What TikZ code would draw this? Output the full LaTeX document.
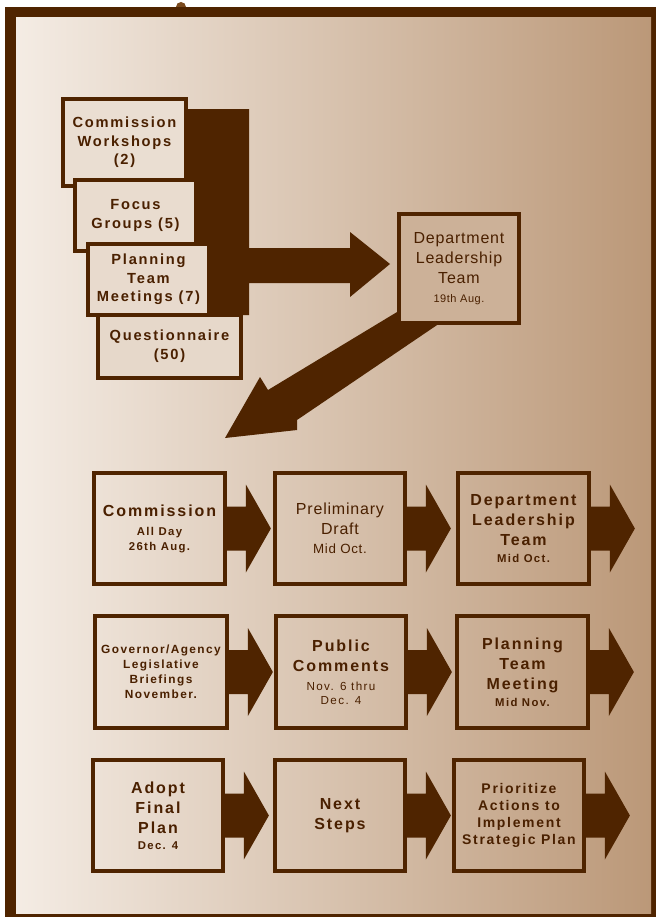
\documentclass[tikz,border=0pt]{standalone}
\usepackage{fontspec}
\setmainfont{Liberation Sans}
\newfontfamily\wide[LetterSpace=12]{Liberation Sans}
\newfontfamily\wider[LetterSpace=12]{Liberation Sans}
\newfontfamily\lightsp[LetterSpace=5]{Liberation Sans}
\newcommand{\smtxt}{\fontsize{8.5}{10}\selectfont}
\newcommand{\smreg}{\mdseries\fontsize{8.75}{10}\selectfont}
\definecolor{brn}{HTML}{4F2400}
\definecolor{txt}{HTML}{4A2000}
\definecolor{bgL}{HTML}{F4ECE4}
\definecolor{bgR}{HTML}{BB9878}
\definecolor{pincol}{HTML}{7B4A1E}
\tikzset{
  box/.style={draw=brn, line width=3.2pt, text=txt, align=center, inner sep=0pt},
  wh/.style 2 args={minimum width=#1*0.75pt, minimum height=#2*0.75pt},
  stackfont/.style={font=\wider\bfseries\fontsize{11}{14}\selectfont},
  bigbold/.style={font=\wide\bfseries\fontsize{12}{15}\selectfont},
  bigreg/.style={font=\lightsp\fontsize{12}{15}\selectfont},
  arr/.style={fill=brn},
}
\newcommand{\rowarrow}[1]{%
  \fill[arr] (#1.east) ++(0,-22) -- ++(19,0) -- ++(0,-22) -- ++(25,44) -- ++(-25,44) -- ++(0,-22) -- ++(-19,0) -- cycle;}
\begin{document}
\begin{tikzpicture}[x=0.75pt,y=-0.75pt]
\useasboundingbox (0,0) rectangle (656,917);
% pin and frame
\fill[pincol] (181,7) circle (5);
\fill[brn] (5,7) rectangle (656,917);
\shade[left color=bgL, right color=bgR] (16,18) rectangle (651,913);

% big arrow behind the stack
\fill[arr] (185,109) -- (249,109) -- (249,248) -- (350,248) -- (350,232) -- (390,264) -- (350,297) -- (350,283) -- (249,283) -- (249,315) -- (185,315) -- cycle;

% stack of input boxes
\node[box, stackfont, wh={122.5}{86.5}, fill=bgR!17!bgL] (cw) at (124.5,142.5) {Commission\\Workshops\\(2)};
\node[box, stackfont, wh={120.5}{70.5}, fill=bgR!19!bgL] (fg) at (135.5,215.5) {Focus\\Groups (5)};
\node[box, stackfont, wh={120.5}{70.5}, fill=bgR!21!bgL] (ptm) at (148.5,279.5) {Planning\\Team\\Meetings (7)};
\node[box, stackfont, wh={142.5}{62.5}, fill=bgR!24!bgL] (qn) at (169.5,346.5) {Questionnaire\\(50)};

% diagonal arrow
\fill[arr] (407,306) -- (268,390) -- (260,377) -- (225,438) -- (297,430) -- (297,420) -- (443,321) -- cycle;

% department leadership team
\node[box, bigreg, wh={119.5}{108.5}, fill=bgR!70!bgL] (dlt) at (459,268.5) {Department\\Leadership\\Team\\[-0.75pt]{\fontsize{8.25}{10}\selectfont 19th Aug.}};

% row 1
\node[box, bigbold, wh={130.5}{110.5}] (r1a) at (159.5,528.5) {Commission\\[-0.75pt]{\smtxt All Day}\\[-3.75pt]{\smtxt 26th Aug.}};
\node[box, bigreg, wh={129.5}{110.5}] (r1b) at (340,528.5) {Preliminary\\Draft\\[-0.75pt]{\fontsize{10}{11}\selectfont Mid Oct.}};
\node[box, bigbold, wh={130.5}{110.5}] (r1c) at (523.5,528.5) {Department\\Leadership\\Team\\[-2.25pt]{\smtxt Mid Oct.}};
\rowarrow{r1a}\rowarrow{r1b}\rowarrow{r1c}

% row 2
\node[box, font=\wide\bfseries\fontsize{8.9}{11.25}\selectfont, wh={131.5}{111.5}] (r2a) at (161,672) {Governor/Agency\\Legislative\\Briefings\\November.};
\node[box, bigbold, wh={129.5}{111.5}] (r2b) at (341,672) {Public\\Comments\\[-0.75pt]{\smreg Nov. 6 thru}\\[-4.5pt]{\smreg Dec. 4}};
\node[box, bigbold, wh={130.5}{111.5}] (r2c) at (522.5,672) {Planning\\Team\\Meeting\\[-2.25pt]{\smtxt Mid Nov.}};
\rowarrow{r2a}\rowarrow{r2b}\rowarrow{r2c}

% row 3
\node[box, bigbold, wh={129.5}{110.5}] (r3a) at (158,815.5) {Adopt\\Final\\Plan\\[-3pt]{\smtxt Dec. 4}};
\node[box, bigbold, wh={129.5}{110.5}] (r3b) at (340,815.5) {Next\\Steps};
\node[box, font=\wide\bfseries\fontsize{10.5}{12.75}\selectfont, wh={129.5}{110.5}] (r3c) at (519,815.5) {Prioritize\\Actions to\\Implement\\Strategic Plan};
\rowarrow{r3a}\rowarrow{r3b}\rowarrow{r3c}
\end{tikzpicture}
\end{document}
